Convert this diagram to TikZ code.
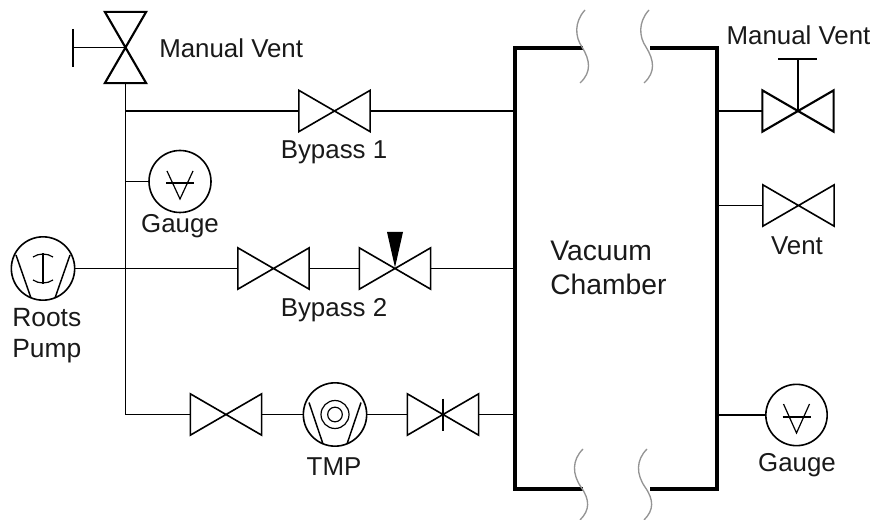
\documentclass[tikz,border=0pt]{standalone}
\usepackage{fontspec}
\setmainfont{Liberation Sans}
\usetikzlibrary{calc}
\tikzset{
  pipe/.style={line width=1.1pt,line cap=butt},
  valve/.style={inner sep=0pt,outer sep=0pt,minimum width=53.5pt,minimum height=31pt,
    append after command={\pgfextra{\draw[valveline,#1]
      (\tikzlastnode.north west)--(\tikzlastnode.south east)--(\tikzlastnode.north east)--(\tikzlastnode.south west)--cycle;}}},
  valve/.default={},
  vvalve/.style={inner sep=0pt,outer sep=0pt,minimum width=31pt,minimum height=53.5pt,
    append after command={\pgfextra{\draw[valveline,line width=1.6pt]
      (\tikzlastnode.north west)--(\tikzlastnode.north east)--(\tikzlastnode.south west)--(\tikzlastnode.south east)--cycle;}}},
  valveline/.style={line width=1.2pt,line join=miter},
  disc/.style={circle,draw,line width=1.2pt,inner sep=0pt,outer sep=0pt,minimum size=#1},
  symbol/.style={line width=0.9pt},
  wall/.style={line width=3.5pt,line cap=butt,line join=miter},
  breakline/.style={draw=black!42,line width=1pt},
  label/.style={inner sep=0pt,font=\fontsize{19.4pt}{25.5pt}\selectfont,text=black!90},
}
\begin{document}
\begin{tikzpicture}[x=0.75pt,y=-0.75pt]
\useasboundingbox (0,0) rectangle (874,520);
% chamber
\node[minimum width=151.5pt,minimum height=330.5pt,inner sep=0pt,outer sep=0pt] (chamber) at (616,268.5) {};
\coordinate (tl) at ($(chamber.north west)+(68,0)$);
\coordinate (tr) at ($(chamber.north east)+(-67,0)$);
\coordinate (bl) at ($(chamber.south west)+(68,0)$);
\coordinate (br) at ($(chamber.south east)+(-67,0)$);
\draw[wall] (tl)--(chamber.north west)--(chamber.south west)--(bl);
\draw[wall] (tr)--(chamber.north east)--(chamber.south east)--(br);
% break lines
\draw[breakline] (585,10) .. controls (574,22) and (575,37) .. (582,47) .. controls (590,60) and (592,72) .. (580,83);
\draw[breakline] (649,10) .. controls (638,22) and (639,37) .. (646,47) .. controls (654,60) and (656,72) .. (644,83);
\draw[breakline] (583,449) .. controls (572,460) and (572,474) .. (581,487) .. controls (590,500) and (590,510) .. (580,520);
\draw[breakline] (647,449) .. controls (636,460) and (636,474) .. (645,487) .. controls (654,500) and (654,510) .. (644,520);

% left side components
\node[vvalve] (mv1) at (125.5,47.5) {};
\coordinate (mv1h) at (73,47.5);
\coordinate (mv1ht) at (73,29);
\coordinate (mv1hb) at (73,67);
\draw[pipe] (mv1.center)--(mv1h);
\draw[pipe] (mv1ht)--(mv1hb);
\coordinate (j0) at (125.5,414.5);
\draw[pipe] (mv1.south)--(j0);

\node[valve] (by1) at (334.5,111) {};
\coordinate (j1) at (125.5,111);
\draw[pipe] (j1)--(by1.west);
\draw[pipe] (by1.east)--(by1.east -| chamber.west);

\node[disc=46.5pt] (g1) at (180,181.5) {};
\coordinate (j2) at (125.5,181.5);
\draw[pipe] (j2)--(g1.west);
\draw[symbol] ($(g1.center)+(-13,-10.5)$)--($(g1.center)+(0,17.5)$)--($(g1.center)+(13,-10.5)$);
\draw[symbol] ($(g1.center)+(-14,1.5)$)--($(g1.center)+(14,1.5)$);

\node[disc=47.5pt] (roots) at (43,268.5) {};
\node[valve] (by2a) at (273.5,268.5) {};
\node[valve] (by2b) at (395,268.5) {};
\draw[pipe] (roots.east)--(by2a.west);
\draw[pipe] (by2a.east)--(by2b.west);
\draw[pipe] (by2b.east)--(by2b.east -| chamber.west);
\fill ($(by2b.center)+(-8,-36.5)$)--($(by2b.center)+(8,-36.5)$)--($(by2b.center)+(0,-1)$)--cycle;
% roots symbol
\draw[symbol,line width=1.1pt] ($(roots.center)+(-27,-13.5)$)--($(roots.center)+(-12,29.5)$);
\draw[symbol,line width=1.1pt] ($(roots.center)+(27,-13.5)$)--($(roots.center)+(12,29.5)$);
\draw[symbol] ($(roots.center)+(0,-15)$)--($(roots.center)+(0,15)$);
\draw[symbol] ($(roots.center)+(-10,-11.5)$) .. controls ($(roots.center)+(-4,-15.5)$) and ($(roots.center)+(4,-15.5)$) .. ($(roots.center)+(10,-11.5)$);
\draw[symbol] ($(roots.center)+(-10,11.5)$) .. controls ($(roots.center)+(-4,15.5)$) and ($(roots.center)+(4,15.5)$) .. ($(roots.center)+(10,11.5)$);

\node[valve] (tv1) at (226,414.5) {};
\node[disc=47.5pt] (tmp) at (335,414.5) {};
\node[valve] (tv2) at (443,414.5) {};
\draw[pipe] (j0)--(tv1.west);
\draw[pipe] (tv1.east)--(tmp.west);
\draw[pipe] (tmp.east)--(tv2.west);
\draw[pipe] (tv2.east)--(tv2.east -| chamber.west);
\draw[symbol] ($(tv2.center)+(0,-16)$)--($(tv2.center)+(0,16)$);
\draw[symbol,line width=1.1pt] ($(tmp.center)+(-26,-12)$)--($(tmp.center)+(-12,29.5)$);
\draw[symbol,line width=1.1pt] ($(tmp.center)+(26,-12)$)--($(tmp.center)+(12,29.5)$);
\draw[symbol] (tmp.center) circle[radius=5.5pt];
\draw[symbol] (tmp.center) circle[radius=10.5pt];

% right side components
\node[valve={line width=1.6pt}] (mv2) at (798,111) {};
\coordinate (mv2t) at (798,59);
\coordinate (mv2l) at (778,59);
\coordinate (mv2r) at (817,59);
\draw[pipe] (mv2.center)--(mv2t);
\draw[pipe] (mv2l)--(mv2r);
\draw[pipe] (mv2.west -| chamber.east)--(mv2.west);
\node[valve] (vent) at (798.5,205.5) {};
\draw[pipe] (vent.west -| chamber.east)--(vent.west);
\node[disc=46pt] (g2) at (796.5,415) {};
\draw[pipe] (g2.west -| chamber.east)--(g2.west);
\draw[symbol] ($(g2.center)+(-13,-11)$)--($(g2.center)+(0,18)$)--($(g2.center)+(13,-11)$);
\draw[symbol] ($(g2.center)+(-14,2)$)--($(g2.center)+(14,2)$);

% labels
\node[label,anchor=base west] (lmv1) at (159,57.5) {Manual Vent};
\node[label,anchor=base] (lby1) at (334,159) {Bypass 1};
\node[label,anchor=base] (lg1) at (180,233) {Gauge};
\node[label,anchor=west,align=left,font=\fontsize{19.8pt}{23.2pt}\selectfont] (lroots) at (12,336) {Roots\\Pump};
\node[label,anchor=base] (lby2) at (334,316) {Bypass 2};
\node[label,anchor=base] (ltmp) at (334,475) {TMP};
\node[label,anchor=west,align=left,font=\fontsize{21.2pt}{25.5pt}\selectfont] (lvc) at (550,268) {Vacuum\\Chamber};
\node[label,anchor=base] (lmv2) at (798.5,45) {Manual Vent};
\node[label,anchor=base] (lvent) at (797,254) {Vent};
\node[label,anchor=base] (lg2) at (797,471) {Gauge};
\end{tikzpicture}
\end{document}
